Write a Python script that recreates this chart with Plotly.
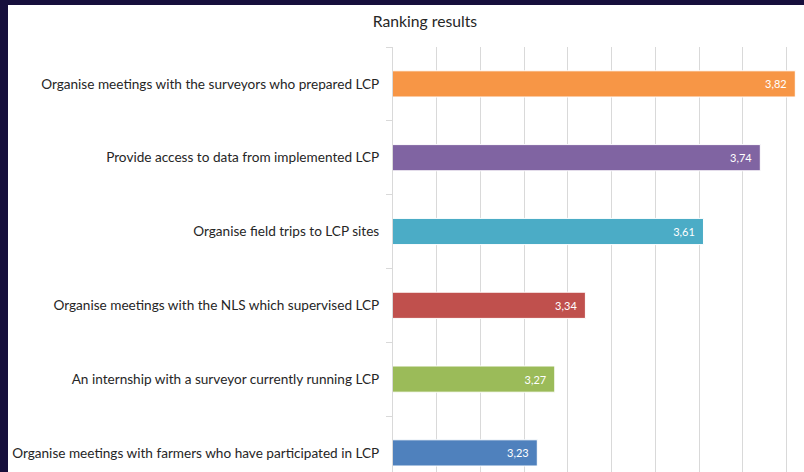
import plotly.graph_objects as go

categories = [
    "Organise meetings with farmers who have participated in LCP",
    "An internship with a surveyor currently running LCP",
    "Organise meetings with the NLS which supervised LCP",
    "Organise field trips to LCP sites",
    "Provide access to data from implemented LCP",
    "Organise meetings with the surveyors who prepared LCP",
]
values = [3.23, 3.27, 3.34, 3.61, 3.74, 3.82]
colors = ["#4F81BD", "#9BBB59", "#C0504D", "#4BACC6", "#8064A2", "#F79646"]
title_text = "Ranking results"

labels = [f"{v:.2f}".replace(".", ",") + "\u00a0\u00a0" for v in values]

W, H = 804, 472
ml, mt = 393, 47
pw, ph = W - ml, H - mt

fig = go.Figure(go.Bar(
    y=categories, x=values, orientation="h",
    marker=dict(color=colors, line=dict(color="white", width=1)),
    width=0.355,
    text=labels, textposition="inside", insidetextanchor="end",
    textfont=dict(color="white", size=11, family="Lato"),
    hoverinfo="skip",
))

# white slide panel
fig.add_shape(type="rect", xref="paper", yref="paper",
              x0=(8 - ml) / pw, x1=1.05, y0=-0.1, y1=1 + (mt - 5) / ph,
              fillcolor="white", line=dict(width=0), layer="below")

fig.update_layout(
    width=W, height=H,
    margin=dict(l=ml, r=0, t=mt, b=0, pad=0),
    paper_bgcolor="#160f3c", plot_bgcolor="white",
    showlegend=False,
    bargap=0.65,
    font=dict(family="Lato", color="#262626"),
    title=dict(text=title_text, x=425 / W, xanchor="center", xref="container",
               y=1 - 22 / H, yanchor="middle", yref="container",
               font=dict(size=15.7, color="#262626", family="Lato")),
    xaxis=dict(range=[2.9, 2.9 + (W - 392.7) / 437.6], tick0=2.9, dtick=0.1,
               showgrid=True, gridcolor="#d9d9d9", gridwidth=1,
               showticklabels=False, zeroline=False, showline=False, ticks=""),
    yaxis=dict(type="category", categoryorder="array", categoryarray=categories,
               range=[5.5 - ph / 73.8, 5.5],
               showline=True, linecolor="#d9d9d9", linewidth=1,
               ticks="outside", tickson="boundaries", ticklen=6, tickcolor="#d9d9d9",
               ticklabelstandoff=10,
               tickfont=dict(size=13.6, color="#262626", family="Lato"),
               showgrid=False),
)

fig.write_html("out.html", config={"displayModeBar": False, "staticPlot": True},
               post_script="document.body.style.margin='0';document.body.style.overflow='hidden';document.body.style.background='#160f3c';")
